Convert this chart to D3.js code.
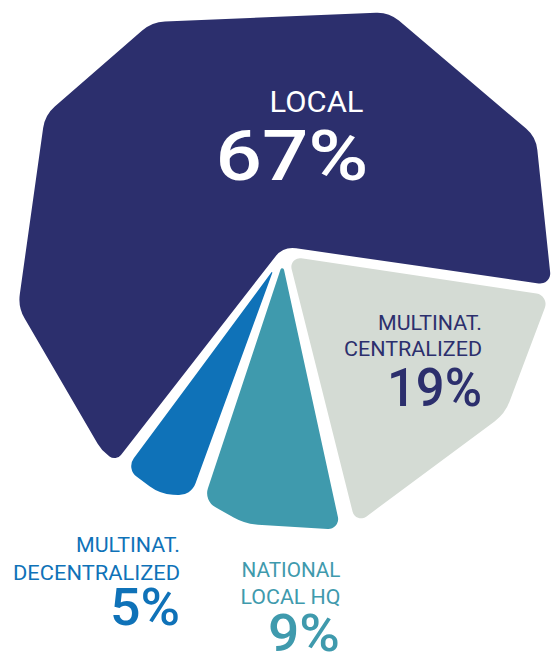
<!DOCTYPE html>
<html>
<head>
<meta charset="utf-8">
<script src="https://cdn.jsdelivr.net/npm/d3@7"></script>
<style>
  html, body { margin: 0; padding: 0; background: #ffffff; }
  svg { display: block; }
</style>
</head>
<body>
<svg id="chart" width="553" height="653"></svg>
<script>
// Organisational model of respondents (share, %)
const categories = ["LOCAL", "MULTINAT. CENTRALIZED", "NATIONAL LOCAL HQ", "MULTINAT. DECENTRALIZED"];
const nameLines  = [["LOCAL"], ["MULTINAT.", "CENTRALIZED"], ["NATIONAL", "LOCAL HQ"], ["MULTINAT.", "DECENTRALIZED"]];
const values     = [67, 19, 9, 5];

// Styling
const sliceColors = ["#2c2f6d", "#d4dbd4", "#3f9aad", "#0f72b8"];
const labelColors = ["#ffffff", "#2c2f6d", "#3f9aad", "#0f72b8"];

const W = 553, H = 653;
const cx = 283.5, cy = 251, R = 270;
const startDeg = -142.8;     // where the first slice begins (clockwise from 12 o'clock)
const cornerTangent = 13;    // corner rounding, measured along the edges

// White gap at the start edge of each slice: [half width px, extra half opening in degrees]
const gapAtStart = [[3, 0.7], [4.5, 0.15], [3.5, 0.9], [3, 0.85]];

// Faceted rim of the pie: [angle in degrees, radius as a fraction of R]
const rimFacets = [
  [-29.87, 0.978], [23.82, 0.967], [65.70, 1.026], [98.06, 1.004],
  [126.31, 1.018], [166.98, 1.061], [188.03, 1.021], [199.78, 0.964],
  [206.94, 1.010], [222.36, 1.000], [258.09, 1.005], [299.70, 1.017]
];

// Label placement, offsets from the pie centre
const labelLayout = [
  { size: 30, lines: [{ dx: 80, dy: -139.5, w: 94 }],
    pct: { size: 70, dx: 85, dy: -71, w: 153 } },
  { size: 21, lines: [{ dx: 198.5, dy: 79, w: 104 }, { dx: 198.5, dy: 105, w: 138 }],
    pct: { size: 53, dx: 198.5, dy: 155, w: 95 } },
  { size: 21, lines: [{ dx: 57, dy: 325.5, w: 99 }, { dx: 57, dy: 352.5, w: 100 }],
    pct: { size: 51, dx: 56.5, dy: 399.5, w: 72 } },
  { size: 21, lines: [{ dx: -103.5, dy: 301.3, w: 104 }, { dx: -103.5, dy: 329, w: 167 }],
    pct: { size: 52, dx: -103.5, dy: 374, w: 70 } }
];

const svg = d3.select("#chart").attr("viewBox", [0, 0, W, H]);

const rScale = d3.scaleLinear().domain([0, 1]).range([0, R]);
const toRad = d3.scaleLinear().domain([0, 180]).range([0, Math.PI]);

const dir = a => [Math.sin(a), -Math.cos(a)];
const polar = (a, r) => [cx + r * Math.sin(a), cy - r * Math.cos(a)];
const angleOf = p => Math.atan2(p[0] - cx, -(p[1] - cy));
const cross = (a, b) => a[0] * b[1] - a[1] * b[0];
const TAU = 2 * Math.PI;
const wrap = a => ((a % TAU) + TAU) % TAU;

const rimPts = rimFacets.map(([a, r]) => polar(toRad(a), rScale(r)));

// first crossing of a ray with the rim
function rayHit(o, d) {
  let best = null, bestT = Infinity;
  for (let i = 0; i < rimPts.length; i++) {
    const P = rimPts[i], Q = rimPts[(i + 1) % rimPts.length];
    const e = [Q[0] - P[0], Q[1] - P[1]];
    const den = cross(d, e);
    if (Math.abs(den) < 1e-9) continue;
    const po = [P[0] - o[0], P[1] - o[1]];
    const t = cross(po, e) / den;
    const s = cross(po, d) / den;
    if (t > 1e-6 && s >= -1e-9 && s <= 1 + 1e-9 && t < bestT) { bestT = t; best = [o[0] + t * d[0], o[1] + t * d[1]]; }
  }
  return best;
}

// slice outline: apex where the two gap-offset edges meet, then out along the rim
function slicePolygon(a0, a1, g0, g1) {
  const b0 = a0 + toRad(g0[1]), b1 = a1 - toRad(g1[1]);
  const h0 = g0[0], h1 = g1[0];
  const n0 = dir(b0 + Math.PI / 2), n1 = dir(b1 - Math.PI / 2);
  const det = n0[0] * n1[1] - n0[1] * n1[0];
  const qx = (h0 * n1[1] - n0[1] * h1) / det;
  const qy = (n0[0] * h1 - h0 * n1[0]) / det;
  const apex = [cx + qx, cy + qy];
  const p0 = rayHit(apex, dir(b0)), p1 = rayHit(apex, dir(b1));
  const s0 = angleOf(p0);
  const span = wrap(angleOf(p1) - s0);
  const inner = rimPts
    .map(p => ({ p, rel: wrap(angleOf(p) - s0) }))
    .filter(v => v.rel > 1e-6 && v.rel < span - 1e-6)
    .sort((a, b) => a.rel - b.rel)
    .map(v => v.p);
  return [apex, p0, ...inner, p1];
}

// polygon with circular corner rounding; sharp corners get a shorter tangent
function roundedPath(pts, T) {
  const n = pts.length;
  const path = d3.path();
  const start = [(pts[n - 1][0] + pts[0][0]) / 2, (pts[n - 1][1] + pts[0][1]) / 2];
  path.moveTo(start[0], start[1]);
  for (let i = 0; i < n; i++) {
    const prev = pts[(i - 1 + n) % n], cur = pts[i], next = pts[(i + 1) % n];
    const v1 = [prev[0] - cur[0], prev[1] - cur[1]], v2 = [next[0] - cur[0], next[1] - cur[1]];
    const l1 = Math.hypot(v1[0], v1[1]), l2 = Math.hypot(v2[0], v2[1]);
    const c = Math.max(-1, Math.min(1, (v1[0] * v2[0] + v1[1] * v2[1]) / (l1 * l2)));
    const theta = Math.acos(c);
    const t = Math.min(T * Math.min(1, theta / (Math.PI / 3)), 0.45 * l1, 0.45 * l2);
    const r = Math.min(1e4, t * Math.tan(theta / 2));
    path.arcTo(cur[0], cur[1], next[0], next[1], r);
  }
  path.closePath();
  return path.toString();
}

const pie = d3.pie()
  .sort(null)
  .value(d => d)
  .startAngle(toRad(startDeg))
  .endAngle(toRad(startDeg) + TAU);

const arcs = pie(values);

svg.append("g")
  .selectAll("path")
  .data(arcs)
  .join("path")
  .attr("d", (d, i) => roundedPath(
    slicePolygon(d.startAngle, d.endAngle, gapAtStart[i], gapAtStart[(i + 1) % arcs.length]),
    cornerTangent))
  .attr("fill", (d, i) => sliceColors[i]);

const fontFamily = "Roboto, 'Liberation Sans', Arial, sans-serif";
const labels = svg.append("g").attr("font-family", fontFamily).attr("text-anchor", "end");

arcs.forEach((d, i) => {
  const lay = labelLayout[i];
  nameLines[i].forEach((txt, j) => {
    const L = lay.lines[j];
    labels.append("text")
      .attr("x", cx + L.dx).attr("y", cy + L.dy)
      .attr("font-size", lay.size)
      .attr("font-weight", 400)
      .attr("fill", labelColors[i])
      .attr("textLength", L.w)
      .attr("lengthAdjust", "spacingAndGlyphs")
      .text(txt);
  });
  labels.append("text")
    .attr("x", cx + lay.pct.dx).attr("y", cy + lay.pct.dy)
    .attr("font-size", lay.pct.size)
    .attr("font-weight", 500)
    .attr("fill", labelColors[i])
    .attr("textLength", lay.pct.w)
    .attr("lengthAdjust", "spacingAndGlyphs")
    .text(`${d.data}%`);
});
</script>
</body>
</html>
